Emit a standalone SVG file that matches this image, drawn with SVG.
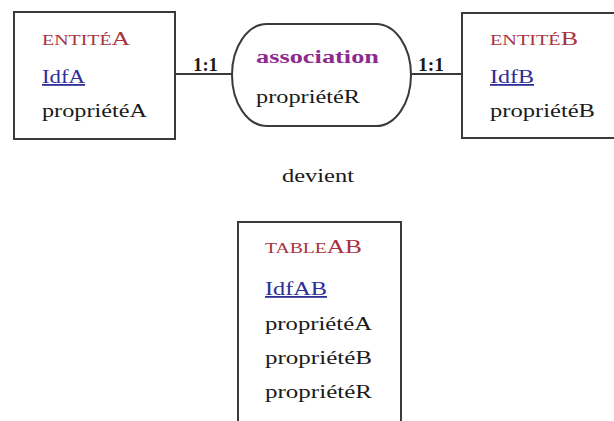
<svg xmlns="http://www.w3.org/2000/svg" width="614" height="421" viewBox="0 0 614 421">
  <style>
    text { font-family: "Liberation Serif", "Times New Roman", serif; font-size: 18px; fill: #1a1a1a; }
    .box { fill: #ffffff; stroke: #3a3a3a; stroke-width: 2; }
    .link { stroke: #3a3a3a; stroke-width: 2; fill: none; }
    .name { fill: #a8323e; }
    .sc { font-size: 14px; }
    .key { fill: #2e2e9a; text-decoration: underline; }
    .assoc { fill: #8e2a8e; font-weight: bold; }
    .card { font-weight: bold; }
  </style>
  <rect width="614" height="421" fill="#ffffff"/>

  <!-- connectors -->
  <g id="connectors">
    <line class="link" x1="175" y1="74" x2="232" y2="74"/>
    <line class="link" x1="411" y1="74" x2="462" y2="74"/>
    <text class="card" x="193" y="71" textLength="25" lengthAdjust="spacingAndGlyphs">1:1</text>
    <text class="card" x="418" y="71" textLength="26" lengthAdjust="spacingAndGlyphs">1:1</text>
  </g>

  <!-- entity A -->
  <g id="entiteA">
    <rect class="box" x="14" y="12" width="161" height="127"/>
    <text class="name" x="42" y="45" textLength="88" lengthAdjust="spacingAndGlyphs"><tspan class="sc">ENTITÉ</tspan>A</text>
    <text class="key" x="42" y="83" textLength="43" lengthAdjust="spacingAndGlyphs">IdfA</text>
    <text x="42" y="117" textLength="105" lengthAdjust="spacingAndGlyphs">propriétéA</text>
  </g>

  <!-- association -->
  <g id="association">
    <path class="box" d="M 267 24 H 376 A 35 51 0 0 1 376 126 H 267 A 35 51 0 0 1 267 24 Z"/>
    <text class="assoc" x="256" y="63" textLength="123" lengthAdjust="spacingAndGlyphs">association</text>
    <text x="256" y="103" textLength="104" lengthAdjust="spacingAndGlyphs">propriétéR</text>
  </g>

  <!-- entity B -->
  <g id="entiteB">
    <rect class="box" x="462" y="13" width="170" height="125"/>
    <text class="name" x="490" y="45" textLength="88" lengthAdjust="spacingAndGlyphs"><tspan class="sc">ENTITÉ</tspan>B</text>
    <text class="key" x="490" y="83" textLength="44" lengthAdjust="spacingAndGlyphs">IdfB</text>
    <text x="490" y="117" textLength="105" lengthAdjust="spacingAndGlyphs">propriétéB</text>
  </g>

  <!-- transition label -->
  <g id="devient">
    <text x="282" y="182" textLength="72" lengthAdjust="spacingAndGlyphs">devient</text>
  </g>

  <!-- resulting table -->
  <g id="tableAB">
    <rect class="box" x="238" y="222" width="163" height="220"/>
    <text class="name" x="265" y="253" textLength="97" lengthAdjust="spacingAndGlyphs"><tspan class="sc">TABLE</tspan>AB</text>
    <text class="key" x="265" y="295" textLength="62" lengthAdjust="spacingAndGlyphs">IdfAB</text>
    <text x="265" y="330" textLength="107" lengthAdjust="spacingAndGlyphs">propriétéA</text>
    <text x="265" y="364" textLength="107" lengthAdjust="spacingAndGlyphs">propriétéB</text>
    <text x="265" y="398" textLength="107" lengthAdjust="spacingAndGlyphs">propriétéR</text>
  </g>
</svg>
